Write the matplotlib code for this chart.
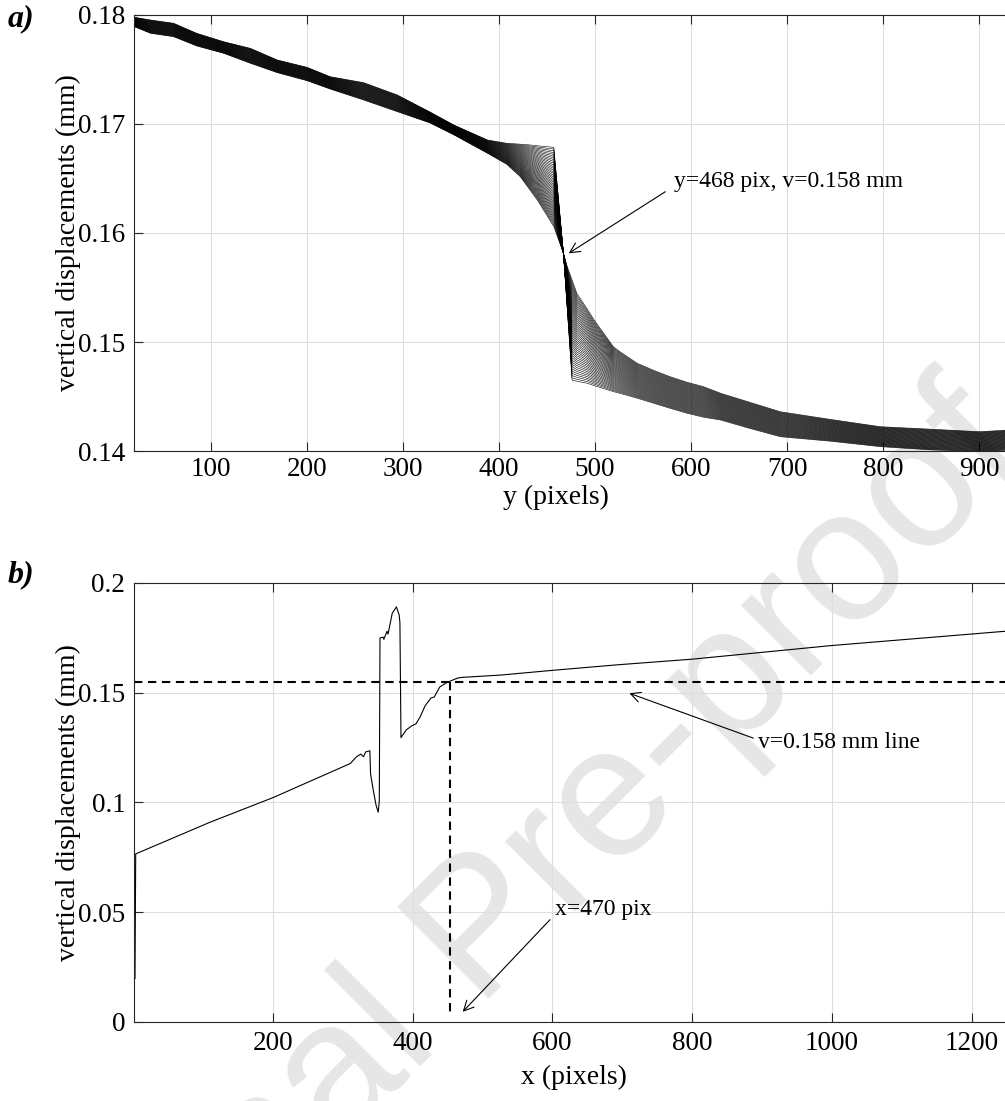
import numpy as np
import matplotlib
matplotlib.use('Agg')
import matplotlib.pyplot as plt
from matplotlib.ticker import FuncFormatter

plt.rcParams['font.family'] = ['Liberation Serif', 'DejaVu Serif']

# ---- panel a: family of profiles, read as two extreme members
pos_a = [20, 37, 61, 85, 113, 141, 169, 200, 224, 259, 294, 328, 353, 388,
         408, 422, 433, 440, 457, 467, 471, 476, 481, 492, 499, 519, 526,
         544, 561, 578, 596, 613, 631, 660, 693, 745, 797, 850, 901, 932]
# sharpest member (step at y~460)
v_sharp = [0.17979, 0.17954, 0.17924, 0.17832, 0.17755, 0.17694, 0.17587,
           0.17520, 0.17434, 0.17379, 0.17266, 0.17110, 0.16990, 0.16853,
           0.16823, 0.16815, 0.16807, 0.16800, 0.16786, 0.15814, 0.15300,
           0.14651, 0.14640, 0.14621, 0.14600, 0.14545, 0.14529, 0.14484,
           0.14438, 0.14392, 0.14346, 0.14310, 0.14284, 0.14210, 0.14131,
           0.14090, 0.14040, 0.14010, 0.13994, 0.14009]
# smoothest member
v_smooth = [0.17893, 0.17832, 0.17801, 0.17716, 0.17649, 0.17557, 0.17471,
            0.17397, 0.17321, 0.17220, 0.17113, 0.17010, 0.16900, 0.16731,
            0.16630, 0.16517, 0.16385, 0.16300, 0.16058, 0.15814, 0.15691,
            0.15570, 0.15447, 0.15300, 0.15202, 0.14957, 0.14910, 0.14804,
            0.14740, 0.14682, 0.14630, 0.14590, 0.14529, 0.14450, 0.14360,
            0.14290, 0.14223, 0.14200, 0.14177, 0.14193]
N_LINES = 46

# ---- panel b: single profile along x
pos_b = [3, 4, 49, 110, 200, 306, 311, 320, 326, 330, 333, 339, 340, 344,
         348, 351, 352.5, 353.5, 358, 359, 363.5, 365, 371, 377, 381, 382,
         383.5, 391, 399, 405, 411, 418, 426.5, 431, 439, 448, 454, 465, 472,
         525, 601, 693, 801, 1000, 1248]
v_b = [0.0197, 0.0765, 0.0826, 0.0909, 0.1021, 0.1170, 0.1177, 0.1208,
       0.1220, 0.1208, 0.1230, 0.1235, 0.1130, 0.1053, 0.0985, 0.0955,
       0.1008, 0.1750, 0.1753, 0.1743, 0.1780, 0.1767, 0.1862, 0.1891,
       0.1853, 0.1818, 0.1295, 0.1330, 0.1349, 0.1358, 0.1390, 0.1440,
       0.1476, 0.1480, 0.1526, 0.1544, 0.1553, 0.1567, 0.1570, 0.1580,
       0.1602, 0.1627, 0.1653, 0.1715, 0.1780]
v_level = 0.155
x_cross = 453.6

W, H = 1005, 1101
fig = plt.figure(figsize=(W / 100, H / 100), dpi=100)

# watermark behind everything
fig.text(0.482, 0.152, 'Journal Pre-proof', rotation=45, ha='center',
         va='center', fontsize=135, color='#e6e6e6',
         family=['Liberation Sans', 'DejaVu Sans'], zorder=-5)


def style_axes(ax, pad):
    ax.patch.set_visible(False)
    ax.grid(True, color='#dedede', lw=0.8)
    ax.set_axisbelow(True)
    ax.tick_params(direction='in', top=True, right=False, length=6.5,
                   width=0.8, labelsize=19.5, pad=6.5, color='#262626')
    ax.tick_params(axis='x', pad=pad)
    for s in ax.spines.values():
        s.set_color('#262626')
        s.set_linewidth(0.8)
    ax.yaxis.set_major_formatter(FuncFormatter(lambda v, p: '%g' % round(v, 3)))


# panel a
ax1 = fig.add_axes([134.3 / W, (H - 451) / H, (1010 - 134.3) / W, 436 / H])
style_axes(ax1, 4.5)
sharp = np.array(v_sharp)
smooth = np.array(v_smooth)
for k in range(N_LINES):
    t = k / (N_LINES - 1)
    ax1.plot(pos_a, sharp + t * (smooth - sharp), color='k', lw=0.4)
ax1.set_xlim(20, 20 + (1010 - 134.3) / 0.96)
ax1.set_ylim(0.14, 0.18)
ax1.set_xticks(range(100, 1000, 100))
ax1.set_yticks([0.14, 0.15, 0.16, 0.17, 0.18])
ax1.set_xlabel('y (pixels)', fontsize=20)
ax1.xaxis.set_label_coords(0.4816, -0.106)
ax1.xaxis.label.set_va('center')
ax1.set_ylabel('vertical displacements (mm)', fontsize=20)
ax1.yaxis.set_label_coords(-0.0757, 0.5)
ax1.yaxis.label.set_va('center')
ax1.text(581.9, 0.16419, 'y=468 pix, v=0.158 mm', fontsize=17,
         ha='left', va='baseline')
ax1.annotate('', xy=(472.5, 0.15814), xytext=(573.2, 0.16379),
             arrowprops=dict(arrowstyle='->', lw=0.8, color='k',
                             shrinkA=0, shrinkB=0, mutation_scale=18))

# panel b
ax2 = fig.add_axes([134.3 / W, (H - 1021.7) / H, (1010 - 134.3) / W, 438.7 / H])
style_axes(ax2, 6.5)
ax2.plot(pos_b, v_b, color='k', lw=0.8)
ax2.axhline(v_level, color='k', lw=1.5, ls=(0, (4, 2.7)))
ax2.plot([x_cross, x_cross], [v_level, 0.003], color='k', lw=1.5,
         ls=(0, (4, 2.7)))
ax2.set_xlim(2, 2 + (1010 - 134.3) / 0.699)
ax2.set_ylim(0, 0.2)
ax2.set_xticks(range(200, 1300, 200))
ax2.set_yticks([0, 0.05, 0.1, 0.15, 0.2])
ax2.set_xlabel('x (pixels)', fontsize=20)
ax2.xaxis.set_label_coords(0.502, -0.128)
ax2.xaxis.label.set_va('center')
ax2.set_ylabel('vertical displacements (mm)', fontsize=20)
ax2.yaxis.set_label_coords(-0.0757, 0.5)
ax2.yaxis.label.set_va('center')
ax2.text(894.7, 0.125, 'v=0.158 mm line', fontsize=17, ha='left',
         va='baseline')
ax2.annotate('', xy=(710.2, 0.14973), xytext=(887.6, 0.12927),
             arrowprops=dict(arrowstyle='->', lw=0.8, color='k',
                             shrinkA=0, shrinkB=0, mutation_scale=18))
ax2.text(603.9, 0.0485, 'x=470 pix', fontsize=17, ha='left', va='baseline')
ax2.annotate('', xy=(471.8, 0.0045), xytext=(596.7, 0.0465),
             arrowprops=dict(arrowstyle='->', lw=0.8, color='k',
                             shrinkA=0, shrinkB=0, mutation_scale=18))

# panel letters
fig.text(8 / W, 1 - 4 / H, 'a)', fontsize=23, fontweight='bold',
         fontstyle='italic', ha='left', va='top')
fig.text(8 / W, 1 - 560 / H, 'b)', fontsize=23, fontweight='bold',
         fontstyle='italic', ha='left', va='top')

fig.savefig('out.png', dpi=100)
